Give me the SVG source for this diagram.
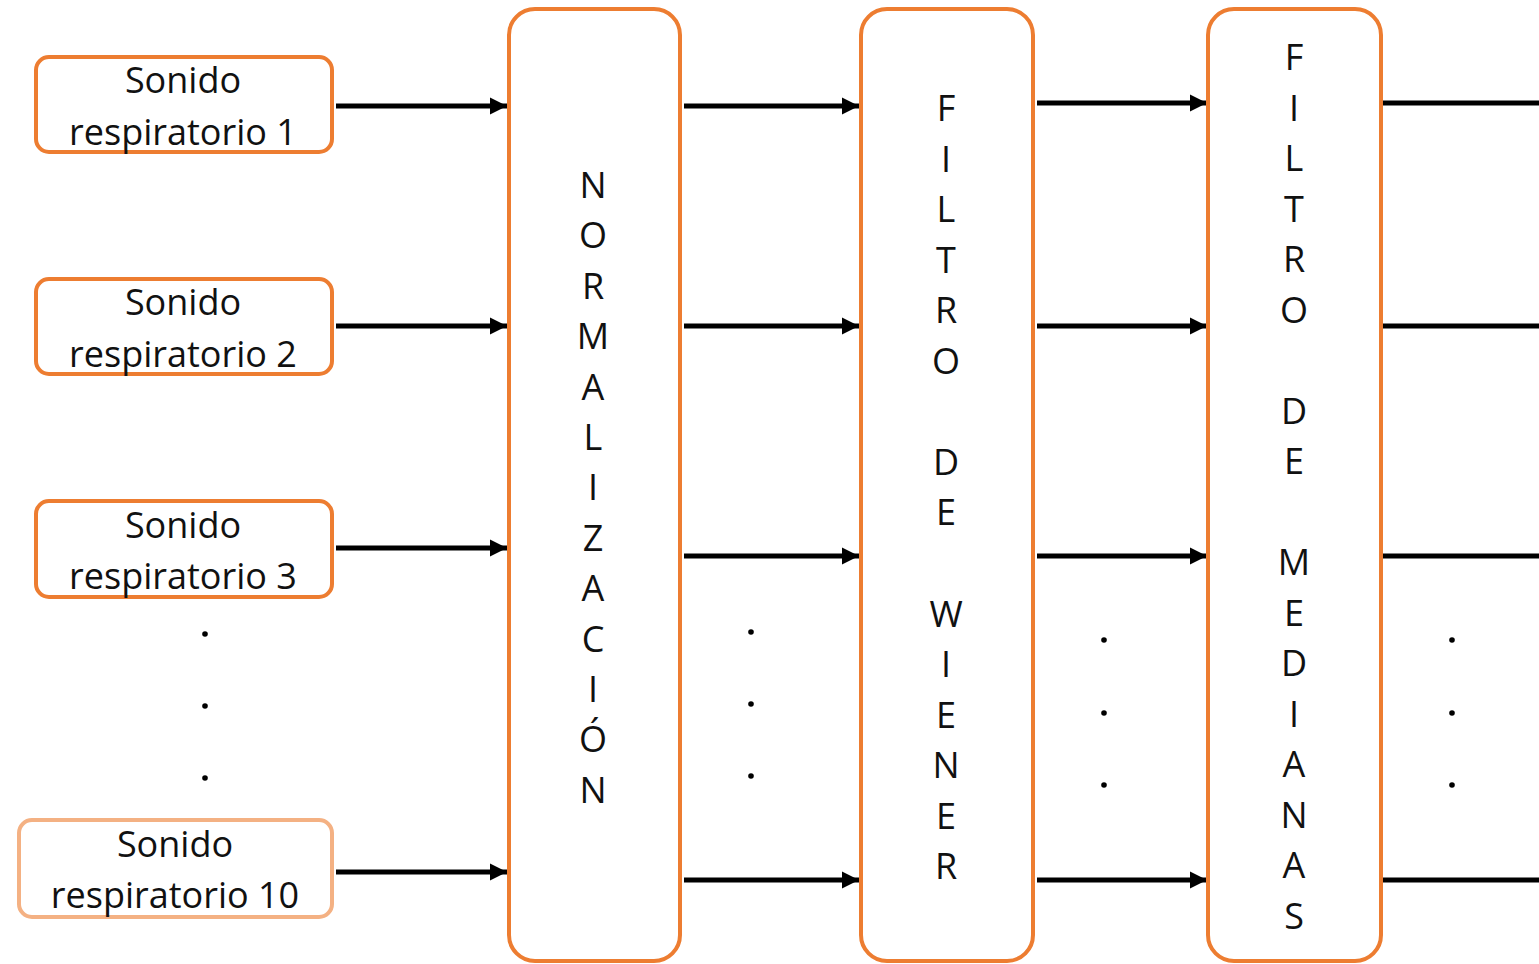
<svg xmlns="http://www.w3.org/2000/svg" width="1539" height="964" viewBox="0 0 1539 964">
<defs>
<style>
.src{fill:#fff;stroke:#ED7D31;stroke-width:4}
.src10{fill:#fff;stroke:#F4B183;stroke-width:4}
.stage{fill:#fff;stroke:#ED7D31;stroke-width:4}
.lbl{font-family:"Open Sans","Liberation Sans",sans-serif;font-size:36px;fill:#111;text-anchor:middle}
.vt{font-family:"Open Sans","Liberation Sans",sans-serif;font-size:36px;fill:#111;text-anchor:middle}
.ln{stroke:#000;stroke-width:5;fill:none}
.dot{fill:#000}
</style>
<marker id="ah" viewBox="0 0 10 10" refX="10" refY="5" markerUnits="userSpaceOnUse" markerWidth="17" markerHeight="18" orient="auto">
<path d="M0,0 L10,5 L0,10 z" fill="#000"/>
</marker>
</defs>
<rect width="1539" height="964" fill="#fff"/>

<g id="connectors">
<line class="ln" x1="336" y1="106" x2="507" y2="106" marker-end="url(#ah)"/>
<line class="ln" x1="336" y1="326" x2="507" y2="326" marker-end="url(#ah)"/>
<line class="ln" x1="336" y1="548" x2="507" y2="548" marker-end="url(#ah)"/>
<line class="ln" x1="336" y1="872" x2="507" y2="872" marker-end="url(#ah)"/>
<line class="ln" x1="684" y1="106" x2="859" y2="106" marker-end="url(#ah)"/>
<line class="ln" x1="684" y1="326" x2="859" y2="326" marker-end="url(#ah)"/>
<line class="ln" x1="684" y1="556" x2="859" y2="556" marker-end="url(#ah)"/>
<line class="ln" x1="684" y1="880" x2="859" y2="880" marker-end="url(#ah)"/>
<line class="ln" x1="1037" y1="103" x2="1207" y2="103" marker-end="url(#ah)"/>
<line class="ln" x1="1037" y1="326" x2="1207" y2="326" marker-end="url(#ah)"/>
<line class="ln" x1="1037" y1="556" x2="1207" y2="556" marker-end="url(#ah)"/>
<line class="ln" x1="1037" y1="880" x2="1207" y2="880" marker-end="url(#ah)"/>
<line class="ln" x1="1383" y1="103" x2="1539" y2="103"/>
<line class="ln" x1="1383" y1="326" x2="1539" y2="326"/>
<line class="ln" x1="1383" y1="556" x2="1539" y2="556"/>
<line class="ln" x1="1383" y1="880" x2="1539" y2="880"/>
</g>

<g id="src1">
<rect class="src" x="36" y="57" width="296" height="95" rx="13"/>
<text class="lbl" x="183" y="93">Sonido</text>
<text class="lbl" x="183" y="145">respiratorio 1</text>
</g>
<g id="src2">
<rect class="src" x="36" y="279" width="296" height="95" rx="13"/>
<text class="lbl" x="183" y="315">Sonido</text>
<text class="lbl" x="183" y="367">respiratorio 2</text>
</g>
<g id="src3">
<rect class="src" x="36" y="501" width="296" height="96" rx="13"/>
<text class="lbl" x="183" y="538">Sonido</text>
<text class="lbl" x="183" y="589">respiratorio 3</text>
</g>
<g id="src10">
<rect class="src10" x="19" y="820" width="313" height="97" rx="13"/>
<text class="lbl" x="175" y="857">Sonido</text>
<text class="lbl" x="175" y="908">respiratorio 10</text>
</g>

<g id="dots">
<circle class="dot" cx="205" cy="634" r="2.8"/>
<circle class="dot" cx="205" cy="706" r="2.8"/>
<circle class="dot" cx="205" cy="778" r="2.8"/>
<circle class="dot" cx="751" cy="632" r="2.8"/>
<circle class="dot" cx="751" cy="704" r="2.8"/>
<circle class="dot" cx="751" cy="776" r="2.8"/>
<circle class="dot" cx="1104" cy="640" r="2.8"/>
<circle class="dot" cx="1104" cy="713" r="2.8"/>
<circle class="dot" cx="1104" cy="785" r="2.8"/>
<circle class="dot" cx="1452" cy="640" r="2.8"/>
<circle class="dot" cx="1452" cy="713" r="2.8"/>
<circle class="dot" cx="1452" cy="785" r="2.8"/>
</g>

<g id="normalizacion">
<rect class="stage" x="509" y="9" width="171" height="952" rx="26"/>
<text class="vt" x="593" y="198">
<tspan x="593">N</tspan><tspan x="593" dy="50.4">O</tspan><tspan x="593" dy="50.4">R</tspan><tspan x="593" dy="50.4">M</tspan><tspan x="593" dy="50.4">A</tspan><tspan x="593" dy="50.4">L</tspan><tspan x="593" dy="50.4">I</tspan><tspan x="593" dy="50.4">Z</tspan><tspan x="593" dy="50.4">A</tspan><tspan x="593" dy="50.4">C</tspan><tspan x="593" dy="50.4">I</tspan><tspan x="593" dy="50.4">Ó</tspan><tspan x="593" dy="50.4">N</tspan>
</text>
</g>

<g id="wiener">
<rect class="stage" x="861" y="9" width="172" height="952" rx="26"/>
<text class="vt" x="946" y="121">
<tspan x="946">F</tspan><tspan x="946" dy="50.55">I</tspan><tspan x="946" dy="50.55">L</tspan><tspan x="946" dy="50.55">T</tspan><tspan x="946" dy="50.55">R</tspan><tspan x="946" dy="50.55">O</tspan><tspan x="946" dy="101.1">D</tspan><tspan x="946" dy="50.55">E</tspan><tspan x="946" dy="101.1">W</tspan><tspan x="946" dy="50.55">I</tspan><tspan x="946" dy="50.55">E</tspan><tspan x="946" dy="50.55">N</tspan><tspan x="946" dy="50.55">E</tspan><tspan x="946" dy="50.55">R</tspan>
</text>
</g>

<g id="medianas">
<rect class="stage" x="1208" y="9" width="173" height="952" rx="26"/>
<text class="vt" x="1294" y="70">
<tspan x="1294">F</tspan><tspan x="1294" dy="50.5">I</tspan><tspan x="1294" dy="50.5">L</tspan><tspan x="1294" dy="50.5">T</tspan><tspan x="1294" dy="50.5">R</tspan><tspan x="1294" dy="50.5">O</tspan><tspan x="1294" dy="101">D</tspan><tspan x="1294" dy="50.5">E</tspan><tspan x="1294" dy="101">M</tspan><tspan x="1294" dy="50.5">E</tspan><tspan x="1294" dy="50.5">D</tspan><tspan x="1294" dy="50.5">I</tspan><tspan x="1294" dy="50.5">A</tspan><tspan x="1294" dy="50.5">N</tspan><tspan x="1294" dy="50.5">A</tspan><tspan x="1294" dy="50.5">S</tspan>
</text>
</g>
</svg>
